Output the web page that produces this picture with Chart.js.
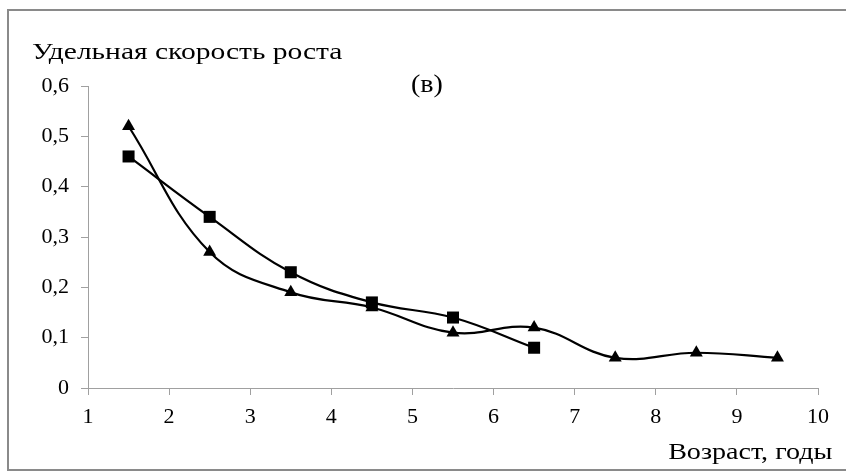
<!DOCTYPE html>
<html>
<head>
<meta charset="utf-8">
<script src="https://cdn.jsdelivr.net/npm/chart.js@4"></script>
<style>
  html, body { margin: 0; padding: 0; background: #fff; }
  #wrap { position: relative; width: 846px; height: 472px; overflow: hidden; }
  #frame { position: absolute; left: 7px; top: 9px; width: 850px; height: 458px; border: 2px solid #8a8a8a; }
  canvas { position: absolute; left: 0; top: 0; }
  .lbl { position: absolute; font-family: "Liberation Serif", "Times New Roman", serif; color: #000; white-space: nowrap; font-size: 24px; }
</style>
</head>
<body>
<div id="wrap">
  <div id="frame"></div>
  <canvas id="growthChart" width="846" height="472"></canvas>
  <div class="lbl" style="left:32px; top:38px; transform-origin:0 0; transform:scaleX(1.23);">Удельная скорость роста</div>
  <div class="lbl" style="left:411px; top:70px; font-size:25px; transform-origin:0 0; transform:scaleX(1.12);">(в)</div>
  <div class="lbl" style="right:14px; top:438px; transform-origin:100% 0; transform:scaleX(1.17);">Возраст, годы</div>
</div>
<script>
// возраст, годы
var ages = [1.5, 2.5, 3.5, 4.5, 5.5, 6.5, 7.5, 8.5, 9.5];
var rateTriangles = [0.52, 0.27, 0.19, 0.16, 0.11, 0.12, 0.06, 0.07, 0.06];
var rateSquares = [0.46, 0.34, 0.23, 0.17, 0.14, 0.08];
var xTicks = [1, 2, 3, 4, 5, 6, 7, 8, 9, 10];
var yTicks = [0, 0.1, 0.2, 0.3, 0.4, 0.5, 0.6];

function toPoints(xs, ys) {
    return ys.map(function (y, i) { return { x: xs[i], y: y }; });
}

var axisGray = '#a0a0a0';
var tickFont = { family: 'Liberation Serif', size: 22 };

var growthCanvas = document.getElementById('growthChart');
var growthChart = new Chart(growthCanvas, {
    type: 'line',
    data: {
        datasets: [
            {
                data: toPoints(ages, rateTriangles),
                borderColor: '#000',
                backgroundColor: '#000',
                borderWidth: 2.2,
                tension: 0.4,
                pointStyle: 'triangle',
                pointRadius: 7.5,
                pointBorderWidth: 0
            },
            {
                data: toPoints(ages, rateSquares),
                borderColor: '#000',
                backgroundColor: '#000',
                borderWidth: 2.2,
                tension: 0.4,
                pointStyle: 'rect',
                pointRadius: 8.5,
                pointBorderWidth: 0
            }
        ]
    },
    options: {
        responsive: false,
        animation: false,
        layout: { padding: { top: 86, right: 28, left: 0, bottom: 0 } },
        plugins: { legend: { display: false }, tooltip: { enabled: false } },
        scales: {
            x: {
                type: 'linear',
                min: 1,
                max: 10,
                afterBuildTicks: function (axis) {
                    axis.ticks = xTicks.map(function (v) { return { value: v }; });
                },
                grid: { drawOnChartArea: false, drawTicks: true, tickLength: 7, color: axisGray },
                border: { color: axisGray, width: 1 },
                ticks: { color: '#000', font: tickFont, padding: 9, maxRotation: 0 },
                afterFit: function (axis) { axis.height = 84; }
            },
            y: {
                min: 0,
                max: 0.6,
                afterBuildTicks: function (axis) {
                    axis.ticks = yTicks.map(function (v) { return { value: v }; });
                },
                grid: { drawOnChartArea: false, drawTicks: true, tickLength: 7, color: axisGray },
                border: { color: axisGray, width: 1 },
                ticks: {
                    color: '#000',
                    font: tickFont,
                    padding: 12,
                    callback: function (v) { return v === 0 ? '0' : v.toFixed(1).replace('.', ','); }
                },
                afterFit: function (axis) { axis.width = 88; }
            }
        }
    }
});
</script>
</body>
</html>
